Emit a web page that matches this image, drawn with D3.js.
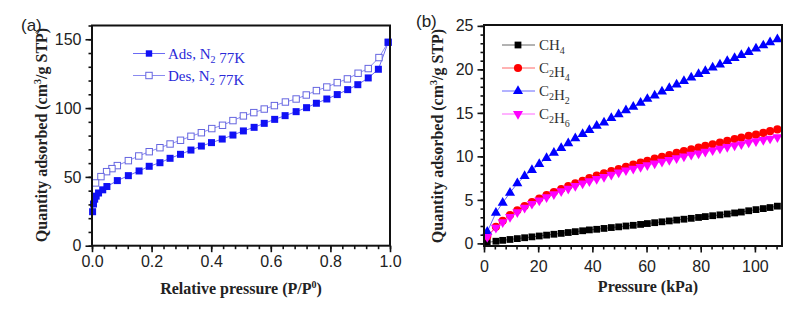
<!DOCTYPE html>
<html>
<head>
<meta charset="utf-8">
<script src="https://cdn.jsdelivr.net/npm/d3@7"></script>
<style>
  body { margin: 0; background: #fff; }
  svg { display: block; }
</style>
</head>
<body>
<script>
// ---- panel (a): N2 isotherm at 77K ----
const adsP = [0.002, 0.005, 0.009, 0.014, 0.022, 0.036, 0.05, 0.085, 0.122, 0.158, 0.192, 0.228, 0.262, 0.297, 0.332, 0.367, 0.401, 0.437, 0.473, 0.508, 0.544, 0.578, 0.613, 0.648, 0.685, 0.72, 0.753, 0.788, 0.823, 0.858, 0.892, 0.927, 0.961, 0.994];
const adsQ = [24.7, 30.3, 33.8, 36, 38.3, 40.6, 43, 47.3, 50.9, 54.3, 57.7, 60.3, 63.5, 66.4, 69.5, 72.4, 74.9, 77.5, 80.4, 83.4, 86.0, 88.9, 91.8, 94.5, 97.4, 100.3, 103.5, 106.6, 109.8, 113.4, 117.0, 121.9, 128.2, 147.8];
const desP = [0.994, 0.963, 0.927, 0.893, 0.857, 0.823, 0.788, 0.753, 0.719, 0.685, 0.649, 0.612, 0.578, 0.543, 0.508, 0.473, 0.438, 0.402, 0.367, 0.332, 0.297, 0.262, 0.228, 0.192, 0.157, 0.122, 0.085, 0.067, 0.049, 0.03, 0.012];
const desQ = [147.8, 136.7, 128.7, 125.3, 121.2, 118.5, 115.3, 112.7, 109.5, 106.6, 104.4, 101.8, 99.3, 96.7, 94.3, 90.9, 87.5, 85.1, 82.1, 79.5, 76.6, 73.9, 71.2, 68.3, 65.2, 61.8, 58.2, 56, 53.8, 50.2, 45.6];
const ticksA_x = [0, 0.2, 0.4, 0.6, 0.8, 1.0];
const ticksA_y = [0, 50, 100, 150];

// ---- panel (b): single gas isotherms ----
const pressure = [1.2, 4.4, 6.9, 9.6, 12.3, 15.0, 17.7, 20.4, 23.1, 25.8, 28.5, 31.1, 33.7, 36.4, 38.9, 41.6, 44.3, 47.0, 49.7, 52.4, 55.1, 57.8, 60.3, 63.0, 65.7, 68.4, 71.1, 73.8, 76.5, 79.2, 81.7, 84.4, 87.1, 89.8, 92.5, 95.0, 97.7, 100.4, 103.1, 105.6, 108.3];
const ch4 = [0.1, 0.25, 0.35, 0.45, 0.55, 0.65, 0.75, 0.85, 0.95, 1.05, 1.15, 1.25, 1.35, 1.45, 1.55, 1.62, 1.72, 1.82, 1.9, 2.0, 2.08, 2.18, 2.28, 2.38, 2.48, 2.58, 2.68, 2.78, 2.88, 2.98, 3.08, 3.18, 3.28, 3.38, 3.5, 3.6, 3.75, 3.88, 4.0, 4.12, 4.28];
const c2h4 = [0.8, 1.9, 2.6, 3.25, 3.8, 4.3, 4.75, 5.15, 5.55, 5.9, 6.25, 6.6, 6.9, 7.2, 7.5, 7.8, 8.05, 8.3, 8.55, 8.8, 9.05, 9.3, 9.5, 9.75, 9.95, 10.15, 10.4, 10.6, 10.8, 11.0, 11.2, 11.4, 11.6, 11.8, 12.0, 12.15, 12.35, 12.5, 12.7, 12.9, 13.1];
const c2h2 = [1.33, 3.52, 4.67, 5.82, 6.9, 7.74, 8.43, 9.12, 9.81, 10.4, 10.96, 11.5, 12.07, 12.57, 13.03, 13.5, 13.88, 14.4, 14.84, 15.3, 15.7, 16.15, 16.6, 17.0, 17.45, 17.85, 18.25, 18.65, 19.05, 19.45, 19.8, 20.2, 20.55, 20.95, 21.3, 21.65, 22.0, 22.4, 22.75, 23.1, 23.45];
const c2h6 = [0.75, 1.8, 2.45, 3.05, 3.6, 4.1, 4.55, 4.95, 5.3, 5.65, 6.0, 6.3, 6.6, 6.9, 7.15, 7.4, 7.65, 7.9, 8.15, 8.4, 8.6, 8.8, 9.0, 9.2, 9.4, 9.6, 9.8, 10.0, 10.2, 10.35, 10.55, 10.7, 10.9, 11.1, 11.25, 11.4, 11.6, 11.75, 11.9, 12.05, 12.2];
const ticksB_x = [0, 20, 40, 60, 80, 100];
const ticksB_y = [0, 5, 10, 15, 20, 25];

const width = 803, height = 310;
const serif = "'Liberation Serif', 'Times New Roman', serif";
const sans = "'Liberation Sans', Arial, sans-serif";

const svg = d3.select("body").append("svg")
  .attr("width", width)
  .attr("height", height);

// draws frame, ticks (major + minor) and tick labels
function drawAxes(x, y, xMajor, xMinorStep, yMajor, yMinorStep, xPad, yPad, xFmt) {
  const [x0, x1] = x.range();
  const [y0, y1] = y.range();
  const xd = x.domain(), yd = y.domain();
  const xMinor = d3.range(Math.ceil(xd[0] / xMinorStep), Math.floor(xd[1] / xMinorStep + 1e-6) + 1).map((i) => +(i * xMinorStep).toFixed(4));
  const yMinor = d3.range(Math.ceil(yd[0] / yMinorStep), Math.floor(yd[1] / yMinorStep + 1e-6) + 1).map((i) => +(i * yMinorStep).toFixed(4));

  const g = svg.append("g");
  // minor ticks
  g.append("g").attr("transform", `translate(0,${y0})`)
    .call(d3.axisBottom(x).tickValues(xMinor).tickSize(3.5).tickFormat(""));
  g.append("g").attr("transform", `translate(${x0},0)`)
    .call(d3.axisLeft(y).tickValues(yMinor).tickSize(3.5).tickFormat(""));
  // major ticks
  g.append("g").attr("class", "xmaj").attr("transform", `translate(0,${y0})`)
    .call(d3.axisBottom(x).tickValues(xMajor).tickSize(6.5).tickPadding(xPad).tickFormat(xFmt));
  g.append("g").attr("class", "ymaj").attr("transform", `translate(${x0},0)`)
    .call(d3.axisLeft(y).tickValues(yMajor).tickSize(6.5).tickPadding(yPad).tickFormat(d3.format("d")));

  g.selectAll(".domain").remove();
  g.selectAll(".tick line").attr("stroke", "#111").attr("stroke-width", 1.6);
  g.selectAll(".tick text")
    .attr("font-family", sans)
    .attr("font-size", 16)
    .attr("fill", "#222");

  // frame
  svg.append("rect")
    .attr("x", x0).attr("y", y1)
    .attr("width", x1 - x0).attr("height", y0 - y1)
    .attr("fill", "none")
    .attr("stroke", "#111")
    .attr("stroke-width", 2);
}

// y axis title with superscript 3
function yTitle(cx, cy) {
  const t = svg.append("text")
    .attr("transform", `translate(${cx},${cy}) rotate(-90)`)
    .attr("text-anchor", "middle")
    .attr("font-family", serif)
    .attr("font-weight", "bold")
    .attr("font-size", 16)
    .attr("fill", "#222");
  t.append("tspan").text("Quantity adsorbed (cm");
  t.append("tspan").attr("font-size", 10).attr("dy", -6).text("3");
  t.append("tspan").attr("dy", 6).text("/g STP)");
}

// legend text with subscripted digits, e.g. C2H4
function subText(sel, parts) {
  parts.forEach((p) => {
    if (p.sub) {
      sel.append("tspan").attr("font-size", 10).attr("dy", 4).text(p.sub);
      sel.append("tspan").attr("dy", -4).text("");
    } else {
      sel.append("tspan").text(p.t);
    }
  });
}

// ===================== panel (a) =====================
const xA = d3.scaleLinear().domain([0, 1.0]).range([92, 390]);
const yA = d3.scaleLinear().domain([0, 160]).range([245.7, 25.5]);

const adsData = adsP.map((p, i) => ({ x: p, y: adsQ[i] }));
const desData = desP.map((p, i) => ({ x: p, y: desQ[i] }));

const lineA = d3.line().x((d) => xA(d.x)).y((d) => yA(d.y));

svg.append("path").datum(desData)
  .attr("d", lineA).attr("fill", "none")
  .attr("stroke", "#8a8af0").attr("stroke-width", 1);
svg.append("path").datum(adsData)
  .attr("d", lineA).attr("fill", "none")
  .attr("stroke", "#6a6af5").attr("stroke-width", 1);

svg.append("g").selectAll("rect")
  .data(desData).enter().append("rect")
  .attr("x", (d) => xA(d.x) - 3.2)
  .attr("y", (d) => yA(d.y) - 3.2)
  .attr("width", 6.4).attr("height", 6.4)
  .attr("fill", "#fff")
  .attr("stroke", "#6565e0").attr("stroke-width", 1);

svg.append("g").selectAll("rect")
  .data(adsData).enter().append("rect")
  .attr("x", (d) => xA(d.x) - 3.5)
  .attr("y", (d) => yA(d.y) - 3.5)
  .attr("width", 7).attr("height", 7)
  .attr("fill", "#1010f5");

drawAxes(xA, yA, ticksA_x, 0.04, ticksA_y, 10, 3, 4, d3.format(".1f"));
yTitle(47, 135);

const xtA = svg.append("text")
  .attr("x", 241).attr("y", 294)
  .attr("text-anchor", "middle")
  .attr("font-family", serif).attr("font-weight", "bold")
  .attr("font-size", 16).attr("fill", "#222");
xtA.append("tspan").text("Relative pressure (P/P");
xtA.append("tspan").attr("font-size", 10).attr("dy", -6).text("0");
xtA.append("tspan").attr("dy", 6).text(")");

svg.append("text")
  .attr("x", 21).attr("y", 31)
  .attr("font-family", sans).attr("font-size", 17).attr("fill", "#222")
  .text("(a)");

// legend (a)
const legA = [
  { name: "Ads", filled: true, y: 53.5 },
  { name: "Des", filled: false, y: 75.5 }
];
legA.forEach((d) => {
  const g = svg.append("g");
  g.append("line")
    .attr("x1", 133).attr("x2", 165)
    .attr("y1", d.y).attr("y2", d.y)
    .attr("stroke", d.filled ? "#6a6af5" : "#8a8af0").attr("stroke-width", 1);
  g.append("rect")
    .attr("x", 149 - 3.2).attr("y", d.y - 3.2)
    .attr("width", 6.4).attr("height", 6.4)
    .attr("fill", d.filled ? "#1010f5" : "#fff")
    .attr("stroke", d.filled ? "none" : "#6565e0");
  const t = g.append("text")
    .attr("x", 168).attr("y", d.y + 5)
    .attr("font-family", serif).attr("font-size", 15)
    .attr("fill", "#2a2ad8");
  subText(t, [{ t: d.name + ", N" }, { sub: "2" }, { t: " 77K" }]);
});

// ===================== panel (b) =====================
const xB = d3.scaleLinear().domain([0, 110]).range([484, 782]);
const yB = d3.scaleLinear().domain([-0.3, 25.1]).range([246, 25]);

const series = [
  { key: "CH4", label: [{ t: "CH" }, { sub: "4" }], values: ch4, color: "#000000", shape: "square" },
  { key: "C2H4", label: [{ t: "C" }, { sub: "2" }, { t: "H" }, { sub: "4" }], values: c2h4, color: "#ff0000", shape: "circle" },
  { key: "C2H2", label: [{ t: "C" }, { sub: "2" }, { t: "H" }, { sub: "2" }], values: c2h2, color: "#0000ff", shape: "up" },
  { key: "C2H6", label: [{ t: "C" }, { sub: "2" }, { t: "H" }, { sub: "6" }], values: c2h6, color: "#ff00ff", shape: "down" }
];

const symbols = {
  square: d3.symbol().type(d3.symbolSquare).size(46),
  circle: d3.symbol().type(d3.symbolCircle).size(52),
  up: d3.symbol().type(d3.symbolTriangle).size(44),
  down: d3.symbol().type(d3.symbolTriangle).size(44)
};

const lineB = d3.line().x((d) => xB(d.x)).y((d) => yB(d.y));

series.forEach((s) => {
  const pts = pressure.map((p, i) => ({ x: p, y: s.values[i] }));
  svg.append("path").datum(pts)
    .attr("d", lineB).attr("fill", "none")
    .attr("stroke", s.color).attr("stroke-opacity", 0.6).attr("stroke-width", 1);
  svg.append("g").selectAll("path")
    .data(pts).enter().append("path")
    .attr("d", symbols[s.shape]())
    .attr("transform", (d) => `translate(${xB(d.x)},${yB(d.y)})` + (s.shape === "down" ? " rotate(180)" : ""))
    .attr("fill", s.color);
});

drawAxes(xB, yB, ticksB_x, 4, ticksB_y, 1, 8, 4, d3.format("d"));
yTitle(443, 136);

svg.append("text")
  .attr("x", 648).attr("y", 292)
  .attr("text-anchor", "middle")
  .attr("font-family", serif).attr("font-weight", "bold")
  .attr("font-size", 16).attr("fill", "#222")
  .text("Pressure (kPa)");

svg.append("text")
  .attr("x", 416).attr("y", 27)
  .attr("font-family", sans).attr("font-size", 17).attr("fill", "#222")
  .text("(b)");

// legend (b)
series.forEach((s, i) => {
  const ly = 45 + i * 23;
  const g = svg.append("g");
  g.append("line")
    .attr("x1", 502).attr("x2", 535)
    .attr("y1", ly).attr("y2", ly)
    .attr("stroke", s.color).attr("stroke-opacity", 0.6).attr("stroke-width", 1);
  g.append("path")
    .attr("d", symbols[s.shape]())
    .attr("transform", `translate(518,${ly})` + (s.shape === "down" ? " rotate(180)" : ""))
    .attr("fill", s.color);
  const t = g.append("text")
    .attr("x", 539).attr("y", ly + 5)
    .attr("font-family", serif).attr("font-size", 15)
    .attr("fill", "#333");
  subText(t, s.label);
});
</script>
</body>
</html>
